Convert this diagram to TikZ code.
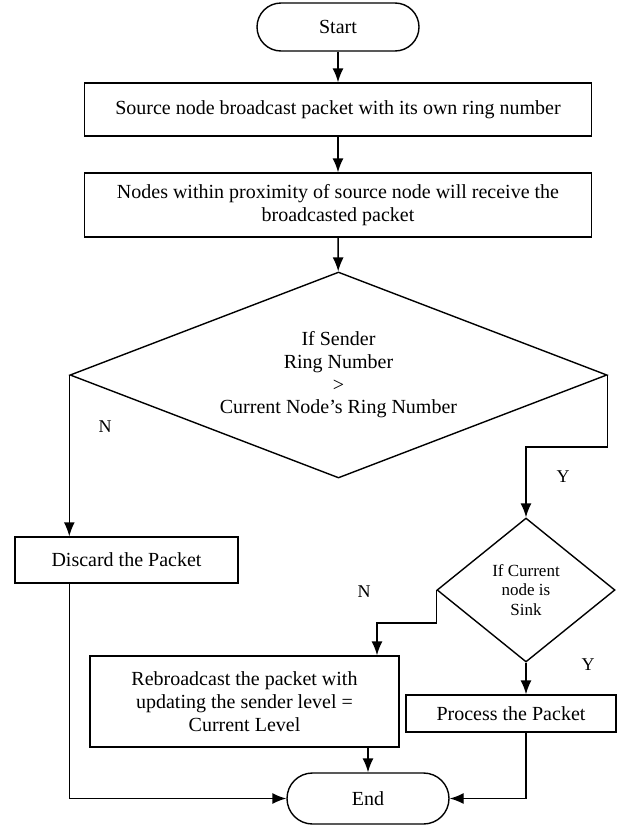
\documentclass[tikz,border=0pt]{standalone}
\usepackage{fontspec}
\setmainfont{Liberation Serif}
\usetikzlibrary{shapes.geometric,arrows.meta}

\begin{document}
\begin{tikzpicture}[x=1pt,y=-1pt,line width=1.4pt,
  box/.style={draw,rectangle,inner sep=0pt,align=center,font=\fontsize{20}{22.7}\selectfont},
  term/.style={box,rounded corners=24pt},
  cond/.style={draw,diamond,inner sep=0pt,align=center},
  lbl/.style={inner sep=0pt,font=\fontsize{18}{20}\selectfont},
  arr/.style={-{Latex[length=14pt,width=11pt]}}]
\useasboundingbox (0,0) rectangle (617,825);
\node[term,minimum width=162pt,minimum height=48pt] (start) at (338,27) {Start};
\node[box,minimum width=507pt,minimum height=53pt] (src) at (338,109.5) {Source node broadcast packet with its own ring number};
\node[box,minimum width=507pt,minimum height=64pt] (recv) at (338,205) {Nodes within proximity of source node will receive the\\broadcasted packet};
\node[cond,aspect=2.6,minimum width=537pt,minimum height=206pt,font=\fontsize{20}{22.7}\selectfont] (cmp) at (338.5,375) {If Sender\\Ring Number\\>\\Current Node’s Ring Number};
\node[box,minimum width=223pt,minimum height=46pt] (discard) at (126.5,560) {Discard the Packet};
\node[cond,aspect=1.24,minimum width=178pt,minimum height=144pt,font=\fontsize{17}{19.5}\selectfont] (sink) at (526,590) {If Current\\node is\\Sink};
\node[box,minimum width=309pt,minimum height=91pt] (rebroad) at (244.5,701.5) {Rebroadcast the packet with\\updating the sender level =\\Current Level};
\node[box,minimum width=210pt,minimum height=37pt] (process) at (511,713.5) {Process the Packet};
\node[term,rounded corners=25.5pt,minimum width=162pt,minimum height=51pt] (end) at (368,798.5) {End};
\node[lbl] (n1) at (105,427) {N};
\node[lbl] (y1) at (563,477) {Y};
\node[lbl] (n2) at (364,592) {N};
\node[lbl] (y2) at (588,665) {Y};
\draw[arr] (start) -- (src);
\draw[arr] (src) -- (recv);
\draw[arr] (recv) -- (cmp);
\draw[arr] (cmp.west) -- (cmp.west |- discard.north);
\draw[arr] (cmp.east) -- ++(0,72) -| (sink.north);
\draw[arr] (sink.west) -- ++(0,33) -| ([xshift=132.5pt]rebroad.north);
\draw[arr] (sink.south) -- (sink.south |- process.north);
\draw[arr] (end.north |- rebroad.south) -- (end.north);
\draw[arr] (cmp.west |- discard.south) |- (end.west);
\draw[arr] (sink.south |- process.south) |- (end.east);
\end{tikzpicture}
\end{document}
